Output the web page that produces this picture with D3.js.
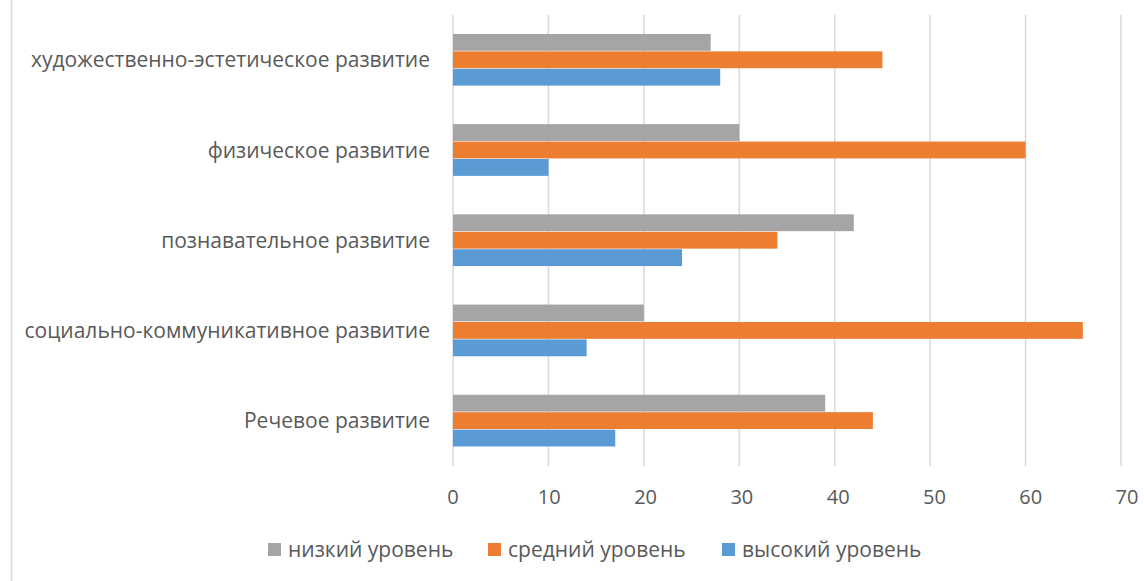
<!DOCTYPE html>
<html>
<head>
<meta charset="utf-8">
<script src="https://cdn.jsdelivr.net/npm/d3@7"></script>
<style>
  body { margin: 0; background: #fff; }
  text { font-family: 'Open Sans', sans-serif; fill: #595959; }
</style>
</head>
<body>
<svg id="chart" width="1144" height="581"></svg>
<script>
// categories, top to bottom
var categories = [
  'художественно-эстетическое развитие',
  'физическое развитие',
  'познавательное развитие',
  'социально-коммуникативное развитие',
  'Речевое развитие'
]
var seriesNames = ['низкий уровень', 'средний уровень', 'высокий уровень']
var seriesColors = ['#a5a5a5', '#ed7d31', '#5b9bd5']
var low = [27, 30, 42, 20, 39]
var mid = [45, 60, 34, 66, 44]
var high = [28, 10, 24, 14, 17]
var xTicks = [0, 10, 20, 30, 40, 50, 60, 70]

var values = [low, mid, high]

var svg = d3.select('#chart')

// outer frame line on the left
svg.append('line')
  .attr('x1', 11.5).attr('x2', 11.5)
  .attr('y1', 0).attr('y2', 581)
  .attr('stroke', '#d9d9d9').attr('stroke-width', 1.5)

var x = d3.scaleLinear().domain([0, 70]).range([453, 1121])
// tick labels sit a touch right of the gridlines further out
var xLabel = d3.scaleLinear().domain([0, 70]).range([453, 1127])
var y = d3.scaleBand().domain(categories).range([15, 466])
  .paddingInner(0.42).paddingOuter(0.21)
var ys = d3.scaleBand().domain(seriesNames).range([0, y.bandwidth()])

// gridlines
svg.append('g')
  .selectAll('line')
  .data(xTicks)
  .enter()
  .append('line')
  .attr('x1', d => x(d)).attr('x2', d => x(d))
  .attr('y1', 15).attr('y2', 466)
  .attr('stroke', '#d9d9d9').attr('stroke-width', 1.5)

// bars
seriesNames.forEach(function(s, si) {
  svg.append('g')
    .selectAll('rect')
    .data(categories)
    .enter()
    .append('rect')
    .attr('x', x(0))
    .attr('y', d => y(d) + ys(s))
    .attr('width', (d, i) => x(values[si][i]) - x(0))
    .attr('height', ys.bandwidth() - 0.6)
    .attr('fill', seriesColors[si])
})

// category labels
svg.append('g')
  .selectAll('text')
  .data(categories)
  .enter()
  .append('text')
  .attr('x', 430)
  .attr('y', d => y(d) + y.bandwidth() / 2)
  .attr('dy', '0.35em')
  .attr('text-anchor', 'end')
  .style('font-size', '21px')
  .text(d => d)

// x tick labels
svg.append('g')
  .selectAll('text')
  .data(xTicks)
  .enter()
  .append('text')
  .attr('x', d => xLabel(d))
  .attr('y', 497)
  .attr('dy', '0.35em')
  .attr('text-anchor', 'middle')
  .style('font-size', '20px')
  .text(d => d)

// legend
var legendX = [268, 488, 722]
var legend = svg.append('g')
  .selectAll('g')
  .data(seriesNames)
  .enter()
  .append('g')
  .attr('transform', (d, i) => 'translate(' + legendX[i] + ',550)')

legend.append('rect')
  .attr('x', 0).attr('y', -7)
  .attr('width', 13).attr('height', 13)
  .attr('fill', (d, i) => seriesColors[i])

legend.append('text')
  .attr('x', 20)
  .attr('dy', '0.35em')
  .style('font-size', '21px')
  .text(d => d)
</script>
</body>
</html>
